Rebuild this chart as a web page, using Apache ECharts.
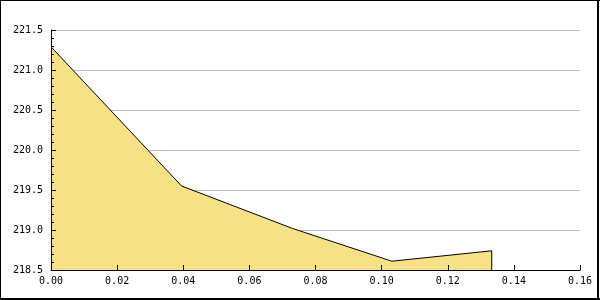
<!DOCTYPE html>
<html><head><meta charset="utf-8">
<script src="https://cdn.jsdelivr.net/npm/echarts@6/dist/echarts.min.js"></script>
<style>html,body{margin:0;padding:0;background:#fff}#c{width:600px;height:300px}</style>
</head><body><div id="c"></div>
<script>
var xValues = [0, 0.0395, 0.073, 0.1031, 0.1333];
var yValues = [221.29, 219.55, 219.02, 218.61, 218.74];
var yMin = 218.5, yMax = 221.5, yStep = 0.5;
var xMin = 0, xMax = 0.16, xStep = 0.02;

var pts = xValues.map(function (x, i) { return [x, yValues[i]]; });
var last = pts[pts.length - 1];
var font = '"DejaVu Sans Mono", monospace';

var chart = echarts.init(document.getElementById('c'), null, { renderer: 'canvas' });
chart.setOption({
  animation: false,
  backgroundColor: '#fff',
  grid: { left: 51, right: 20, top: 30, bottom: 30, containLabel: false },
  xAxis: [
    {
      type: 'value', min: xMin, max: xMax, interval: xStep, z: 0,
      axisLine: { show: false },
      axisTick: { show: false },
      axisLabel: { color: '#000', fontFamily: font, fontSize: 10, margin: 6,
        formatter: function (v) { return v.toFixed(2); } },
      splitLine: { show: false }
    },
    {
      type: 'value', min: xMin, max: xMax, interval: xStep, zlevel: 1, z: 10, position: 'bottom', offset: 0,
      axisLine: { show: true, onZero: false, lineStyle: { color: '#000', width: 1 } },
      axisTick: { show: true, inside: true, length: 5, lineStyle: { color: '#000', width: 1 } },
      axisLabel: { show: false },
      splitLine: { show: false }
    }
  ],
  yAxis: [
    {
      type: 'value', min: yMin, max: yMax, interval: yStep, z: 0,
      axisLine: { show: false },
      axisTick: { show: false },
      axisLabel: { color: '#000', fontFamily: font, fontSize: 10, margin: 8,
        formatter: function (v) { return v.toFixed(1); } },
      splitLine: { show: true, lineStyle: { color: '#c0c0c0', width: 1 } }
    },
    {
      type: 'value', min: yMin, max: yMax, interval: yStep, zlevel: 1, z: 10, position: 'left', offset: 0,
      axisLine: { show: true, onZero: false, lineStyle: { color: '#000', width: 1 } },
      axisTick: { show: true, inside: true, length: 5, lineStyle: { color: '#000' } },
      minorTick: { show: true, splitNumber: 5, length: 3, lineStyle: { color: '#000' } },
      axisLabel: { show: false },
      splitLine: { show: false }
    }
  ],
  series: [
    {
      type: 'line', data: pts, symbol: 'none', z: 2, xAxisIndex: 0, yAxisIndex: 0,
      lineStyle: { color: '#000', width: 1 },
      areaStyle: { color: '#f7e186', opacity: 1, origin: 'start' }
    },
    {
      type: 'line', data: [last, [last[0], yMin]], symbol: 'none', z: 3, xAxisIndex: 0, yAxisIndex: 0,
      lineStyle: { color: '#000', width: 1 }
    }
  ],
  graphic: [
    { type: 'rect', shape: { x: 0, y: 0, width: 600, height: 1 }, style: { fill: '#000' }, silent: true },
    { type: 'rect', shape: { x: 0, y: 0, width: 1, height: 300 }, style: { fill: '#000' }, silent: true },
    { type: 'rect', shape: { x: 597, y: 0, width: 2, height: 300 }, style: { fill: '#000' }, silent: true },
    { type: 'rect', shape: { x: 0, y: 298, width: 600, height: 2 }, style: { fill: '#000' }, silent: true }
  ]
});
</script>
</body></html>
